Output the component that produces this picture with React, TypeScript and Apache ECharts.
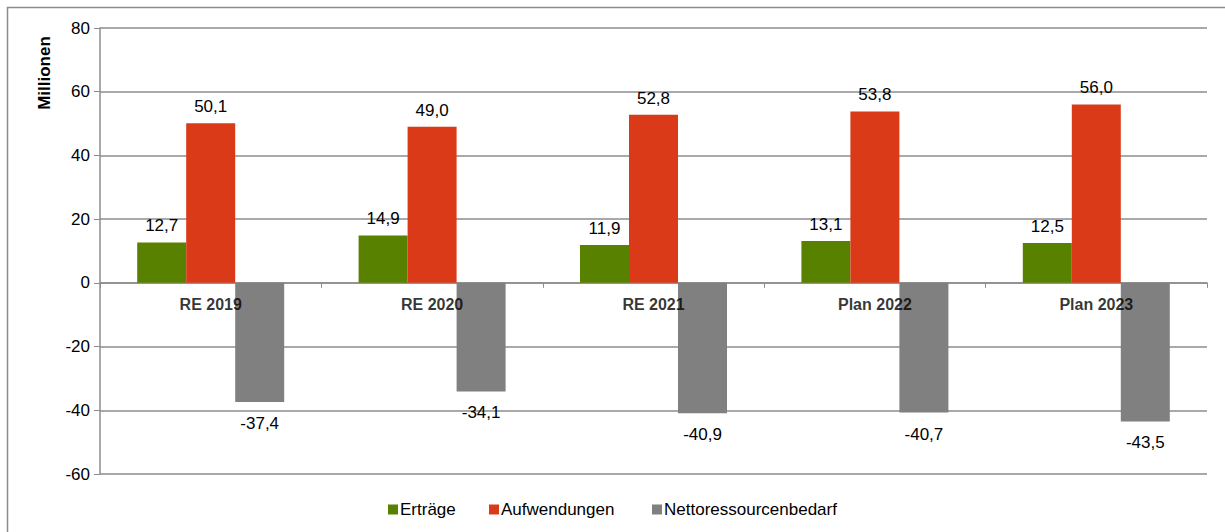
import React, { useEffect, useRef } from "react";
import * as echarts from "echarts";

const categories = ["RE 2019", "RE 2020", "RE 2021", "Plan 2022", "Plan 2023"];
const ertraege = [12.7, 14.9, 11.9, 13.1, 12.5];
const aufwendungen = [50.1, 49.0, 52.8, 53.8, 56.0];
const netto = [-37.4, -34.1, -40.9, -40.7, -43.5];
const seriesNames = ["Erträge", "Aufwendungen", "Nettoressourcenbedarf"];
const colors = ["#588100", "#DA3A17", "#808080"];
const legendLefts = [388, 489, 652];

const fmt = (v: number) => v.toFixed(1).replace(".", ",");

export default function App() {
  const ref = useRef<HTMLDivElement>(null);
  useEffect(() => {
    document.body.style.margin = "0";
    const chart = echarts.init(ref.current!, null, { renderer: "svg" });
    const font = "Liberation Sans, Arial, sans-serif";
    const label = (pos: string, dist: number) => ({
      show: true,
      position: pos,
      distance: dist,
      fontSize: 17,
      fontFamily: font,
      color: "#000",
      formatter: (p: any) => fmt(p.value),
    });
    chart.setOption({
      animation: false,
      textStyle: { fontFamily: font },
      graphic: [
        {
          type: "rect",
          shape: { x: 7.5, y: 7.5, width: 1240, height: 540 },
          style: { fill: "none", stroke: "#8c8c8c", lineWidth: 1.5 },
          silent: true,
        },
        {
          type: "text",
          x: 44,
          y: 73,
          rotation: Math.PI / 2,
          style: {
            text: "Millionen",
            fontSize: 17,
            fontWeight: "bold",
            fontFamily: font,
            fill: "#000",
            align: "center",
            verticalAlign: "middle",
          },
          silent: true,
        },
      ],
      grid: { left: 100, right: 18, top: 28, bottom: 58 },
      legend: seriesNames.map((n, i) => ({
        left: legendLefts[i],
        top: 501,
        padding: 0,
        itemWidth: 10,
        itemHeight: 10,
        icon: "rect",
        textStyle: { fontSize: 17, fontFamily: font, color: "#000", padding: [0, 0, 0, -3] },
        data: [n],
      })),
      xAxis: {
        type: "category",
        data: categories,
        axisLine: { onZero: true, lineStyle: { color: "#8c8c8c", width: 1.5 } },
        axisTick: { show: true, alignWithLabel: false, length: 5, lineStyle: { color: "#8c8c8c" } },
        axisLabel: { show: false },
        splitLine: { show: false },
      },
      yAxis: {
        type: "value",
        min: -60,
        max: 80,
        interval: 20,
        axisLine: { show: true, lineStyle: { color: "#8c8c8c", width: 1.5 } },
        axisTick: { show: true, length: 6, lineStyle: { color: "#8c8c8c" } },
        axisLabel: { fontSize: 17, color: "#000", margin: 10, fontFamily: font },
        splitLine: { show: true, lineStyle: { color: "#8c8c8c", width: 1.5 } },
      },
      series: [
        {
          name: seriesNames[0],
          type: "bar",
          data: ertraege,
          barWidth: 49,
          barGap: "0%",
          itemStyle: { color: colors[0] },
          label: label("top", 8),
        },
        {
          name: seriesNames[1],
          type: "bar",
          data: aufwendungen,
          barWidth: 49,
          barGap: "0%",
          itemStyle: { color: colors[1] },
          label: label("top", 8),
        },
        {
          name: seriesNames[2],
          type: "bar",
          data: netto,
          barWidth: 49,
          barGap: "0%",
          itemStyle: { color: colors[2] },
          label: label("bottom", 13),
        },
        {
          name: "categoryLabels",
          type: "scatter",
          data: categories.map((c) => [c, 0]),
          symbol: "circle",
          symbolSize: 1,
          itemStyle: { color: "rgba(0,0,0,0)" },
          silent: true,
          z: 10,
          label: {
            show: true,
            position: "bottom",
            distance: 13,
            fontSize: 16,
            fontWeight: "bold",
            fontFamily: font,
            color: "#000",
            formatter: (p: any) => categories[p.dataIndex],
          },
        },
      ],
    });
    return () => chart.dispose();
  }, []);
  return <div ref={ref} style={{ position: "absolute", left: 0, top: 0, width: 1225, height: 532 }} />;
}
